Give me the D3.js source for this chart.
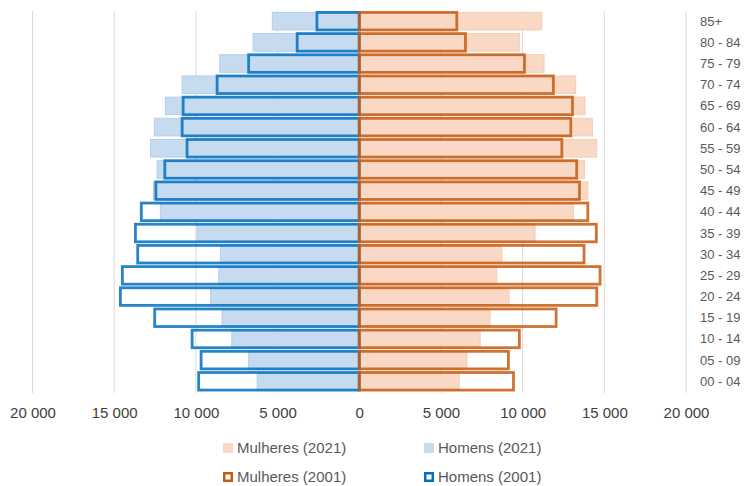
<!DOCTYPE html>
<html>
<head>
<meta charset="utf-8">
<script src="https://cdn.jsdelivr.net/npm/d3@7"></script>
<style>
  body { margin: 0; background: #fff; }
  text { font-family: "Liberation Sans", Arial, sans-serif; }
</style>
</head>
<body>
<div id="chart"></div>
<script>
// age groups, from youngest to oldest
const ages = ['00 - 04', '05 - 09', '10 - 14', '15 - 19', '20 - 24', '25 - 29', '30 - 34', '35 - 39', '40 - 44',
  '45 - 49', '50 - 54', '55 - 59', '60 - 64', '65 - 69', '70 - 74', '75 - 79', '80 - 84', '85+'];

// values
const homens2021 = [6250, 6770, 7800, 8400, 9100, 8600, 8500, 9930, 12170, 12600, 12370, 12780, 12540, 11870, 10840, 8540, 6500, 5320];
const homens2001 = [9830, 9680, 10230, 12520, 14620, 14500, 13560, 13700, 13340, 12450, 11900, 10540, 10840, 10780, 8700, 6770, 3800, 2590];
const mulheres2021 = [6120, 6590, 7400, 8010, 9170, 8420, 8730, 10760, 13100, 13990, 13780, 14540, 14270, 13820, 13250, 11310, 9800, 11170];
const mulheres2001 = [9440, 9130, 9800, 12050, 14540, 14740, 13760, 14510, 13990, 13480, 13310, 12400, 12950, 13050, 11880, 10110, 6500, 5970];

const ticks = [-20000, -15000, -10000, -5000, 0, 5000, 10000, 15000, 20000];

const width = 744;
const height = 486;

const svg = d3.select('#chart')
  .append('svg')
  .attr('width', width)
  .attr('height', height);

// scales
const x = d3.scaleLinear()
  .domain([-20000, 20000])
  .range([32.5, 686]);

const y = d3.scaleBand()
  .domain(ages.slice().reverse())
  .range([10.5, 392])
  .paddingInner(0.17)
  .paddingOuter(0.09);

// number format with a space as thousands separator
const fmt = d3.formatLocale({ decimal: ',', thousands: ' ', grouping: [3], currency: ['', ''] }).format(',d');

// vertical gridlines
svg.append('g')
  .selectAll('line')
  .data(ticks.filter(d => d !== 0))
  .join('line')
  .attr('x1', d => x(d))
  .attr('x2', d => x(d))
  .attr('y1', 11)
  .attr('y2', 393)
  .attr('stroke', '#d9d9d9')
  .attr('stroke-width', 1);

// bottom tick labels (no line, just text)
const xAxis = d3.axisBottom(x)
  .tickValues(ticks)
  .tickFormat(d => fmt(Math.abs(d)))
  .tickSize(0)
  .tickPadding(0);

svg.append('g')
  .attr('transform', 'translate(0, 407)')
  .call(xAxis)
  .call(g => g.select('.domain').remove())
  .selectAll('text')
  .attr('font-size', '15px')
  .attr('fill', '#404040')
  .attr('dy', '0.71em');

const rows = ages.map((a, i) => ({
  age: a,
  h21: homens2021[i],
  h01: homens2001[i],
  m21: mulheres2021[i],
  m01: mulheres2001[i]
}));

// 2021 filled bars
svg.append('g')
  .selectAll('rect')
  .data(rows)
  .join('rect')
  .attr('x', d => x(-d.h21))
  .attr('y', d => y(d.age))
  .attr('width', d => x(0) - x(-d.h21))
  .attr('height', y.bandwidth())
  .attr('fill', '#c6daf0')
  .attr('stroke', '#b3cfec')
  .attr('stroke-width', 1);

svg.append('g')
  .selectAll('rect')
  .data(rows)
  .join('rect')
  .attr('x', x(0))
  .attr('y', d => y(d.age))
  .attr('width', d => x(d.m21) - x(0))
  .attr('height', y.bandwidth())
  .attr('fill', '#f9d9c5')
  .attr('stroke', '#f5ccb2')
  .attr('stroke-width', 1);

// 2001 outlined bars
svg.append('g')
  .selectAll('rect')
  .data(rows)
  .join('rect')
  .attr('x', d => x(-d.h01))
  .attr('y', d => y(d.age))
  .attr('width', d => x(0) - x(-d.h01))
  .attr('height', y.bandwidth())
  .attr('fill', 'none')
  .attr('stroke', '#0070c0')
  .attr('stroke-opacity', 0.85)
  .attr('stroke-width', 2.8);

svg.append('g')
  .selectAll('rect')
  .data(rows)
  .join('rect')
  .attr('x', x(0))
  .attr('y', d => y(d.age))
  .attr('width', d => x(d.m01) - x(0))
  .attr('height', y.bandwidth())
  .attr('fill', 'none')
  .attr('stroke', '#c55a11')
  .attr('stroke-opacity', 0.85)
  .attr('stroke-width', 2.8);

// age labels on the right
svg.append('g')
  .selectAll('text')
  .data(ages)
  .join('text')
  .attr('x', 700)
  .attr('y', d => y(d) + y.bandwidth() / 2)
  .attr('dy', '0.35em')
  .attr('font-size', '13px')
  .attr('fill', '#595959')
  .text(d => d);

// legend
const legend = [
  { label: 'Mulheres (2021)', x: 223, y: 448, fill: '#f9d9c5', stroke: null },
  { label: 'Homens (2021)', x: 424, y: 448, fill: '#c6daf0', stroke: null },
  { label: 'Mulheres (2001)', x: 223, y: 477, fill: '#fff', stroke: '#c55a11' },
  { label: 'Homens (2001)', x: 424, y: 477, fill: '#fff', stroke: '#0070c0' }
];

const lg = svg.append('g')
  .selectAll('g')
  .data(legend)
  .join('g')
  .attr('transform', d => `translate(${d.x}, ${d.y})`);

lg.append('rect')
  .attr('x', d => d.stroke ? 1.25 : 0)
  .attr('y', d => d.stroke ? -3.75 : -5)
  .attr('width', d => d.stroke ? 7.5 : 10)
  .attr('height', d => d.stroke ? 7.5 : 10)
  .attr('fill', d => d.fill)
  .attr('stroke', d => d.stroke)
  .attr('stroke-width', 2.5);

lg.append('text')
  .attr('x', 14)
  .attr('dy', '0.35em')
  .attr('font-size', '15px')
  .attr('fill', '#595959')
  .text(d => d.label);
</script>
</body>
</html>
